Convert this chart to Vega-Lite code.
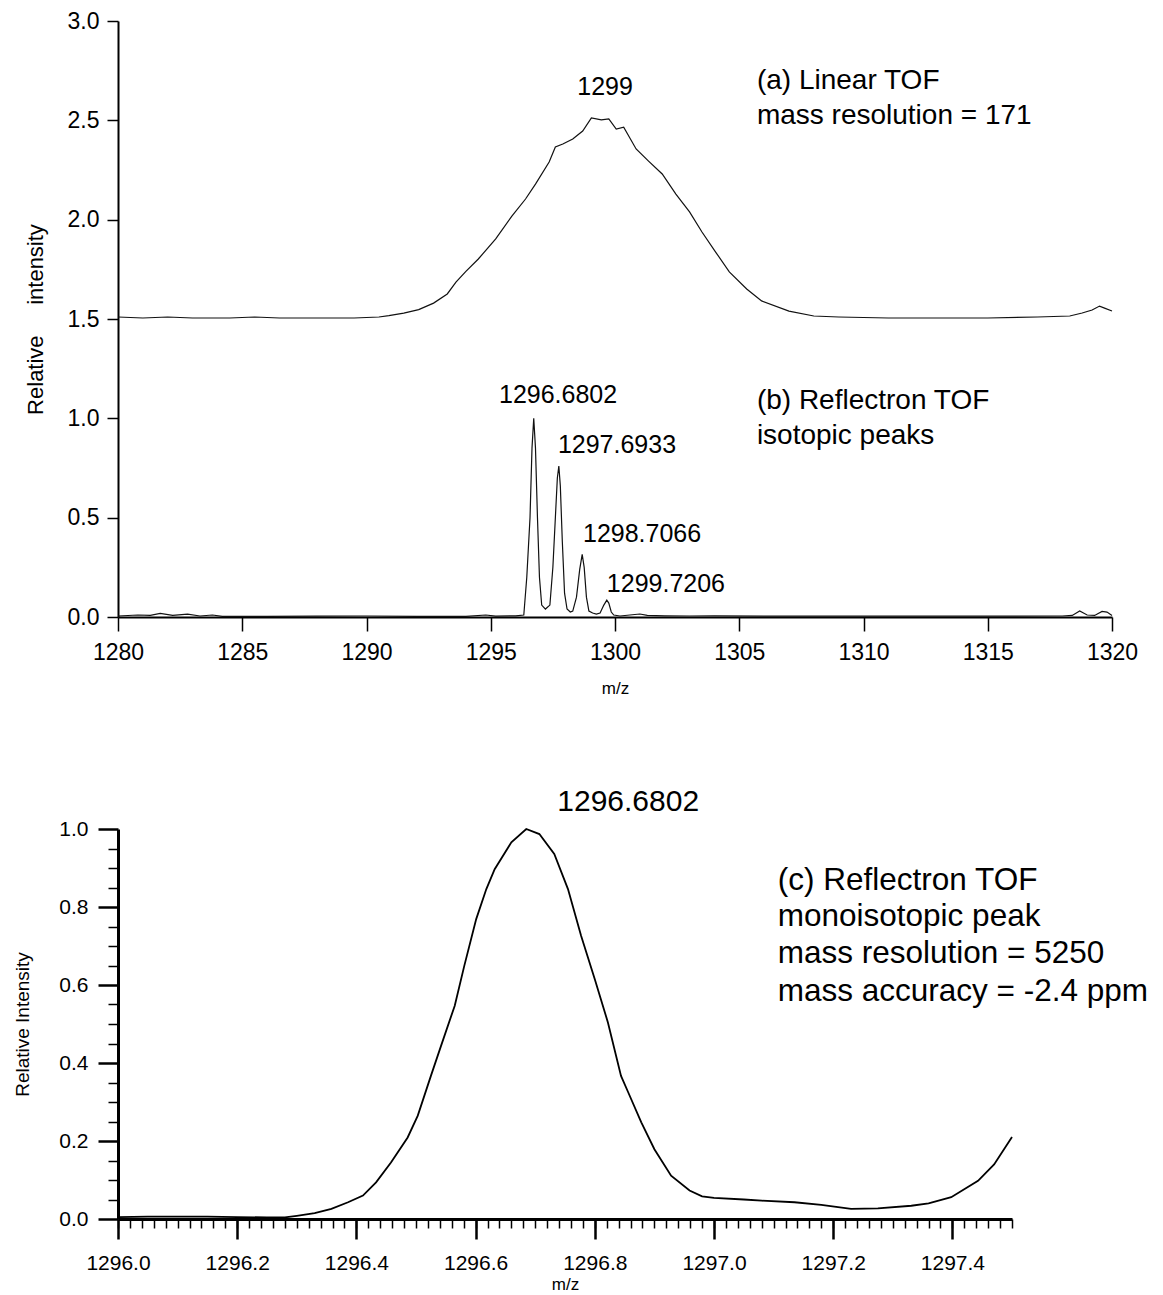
{
  "$schema": "https://vega.github.io/schema/vega-lite/v6.json",
  "background": "white",
  "padding": {"left": 13, "top": 10, "right": 0, "bottom": 0},
  "bounds": "flush",
  "spacing": 212,
  "datasets": {
    "lineA": [
      {"mz": 1280.0, "intensity": 1.51}, {"mz": 1281.0, "intensity": 1.505}, {"mz": 1282.0, "intensity": 1.51},
      {"mz": 1283.0, "intensity": 1.505}, {"mz": 1284.5, "intensity": 1.505}, {"mz": 1285.5, "intensity": 1.51},
      {"mz": 1286.5, "intensity": 1.505}, {"mz": 1288.0, "intensity": 1.505}, {"mz": 1289.5, "intensity": 1.505},
      {"mz": 1290.5, "intensity": 1.51}, {"mz": 1290.9, "intensity": 1.517}, {"mz": 1291.5, "intensity": 1.53},
      {"mz": 1292.1, "intensity": 1.547}, {"mz": 1292.7, "intensity": 1.58}, {"mz": 1293.25, "intensity": 1.626},
      {"mz": 1293.6, "intensity": 1.686}, {"mz": 1294.0, "intensity": 1.74}, {"mz": 1294.5, "intensity": 1.802},
      {"mz": 1295.2, "intensity": 1.903}, {"mz": 1295.85, "intensity": 2.018}, {"mz": 1296.4, "intensity": 2.104},
      {"mz": 1296.8, "intensity": 2.179}, {"mz": 1297.35, "intensity": 2.29}, {"mz": 1297.6, "intensity": 2.366},
      {"mz": 1297.9, "intensity": 2.381}, {"mz": 1298.3, "intensity": 2.406}, {"mz": 1298.7, "intensity": 2.446},
      {"mz": 1299.05, "intensity": 2.512}, {"mz": 1299.45, "intensity": 2.502}, {"mz": 1299.75, "intensity": 2.507},
      {"mz": 1300.05, "intensity": 2.456}, {"mz": 1300.35, "intensity": 2.466}, {"mz": 1300.85, "intensity": 2.356},
      {"mz": 1301.35, "intensity": 2.295}, {"mz": 1301.9, "intensity": 2.23}, {"mz": 1302.45, "intensity": 2.129},
      {"mz": 1303.0, "intensity": 2.039}, {"mz": 1303.5, "intensity": 1.938}, {"mz": 1304.05, "intensity": 1.837},
      {"mz": 1304.6, "intensity": 1.737}, {"mz": 1305.3, "intensity": 1.651}, {"mz": 1305.9, "intensity": 1.591},
      {"mz": 1307.0, "intensity": 1.54}, {"mz": 1308.0, "intensity": 1.515}, {"mz": 1309.0, "intensity": 1.51},
      {"mz": 1311.0, "intensity": 1.505}, {"mz": 1313.0, "intensity": 1.505}, {"mz": 1315.0, "intensity": 1.505},
      {"mz": 1317.0, "intensity": 1.51}, {"mz": 1318.3, "intensity": 1.515}, {"mz": 1318.8, "intensity": 1.53},
      {"mz": 1319.2, "intensity": 1.545}, {"mz": 1319.5, "intensity": 1.565}, {"mz": 1319.7, "intensity": 1.555},
      {"mz": 1320.0, "intensity": 1.54}
    ],
    "lineB": [
      {"mz": 1280.0, "intensity": 0.005}, {"mz": 1280.8, "intensity": 0.01}, {"mz": 1281.3, "intensity": 0.008},
      {"mz": 1281.7, "intensity": 0.018}, {"mz": 1282.2, "intensity": 0.008}, {"mz": 1282.8, "intensity": 0.014},
      {"mz": 1283.3, "intensity": 0.005}, {"mz": 1283.8, "intensity": 0.01}, {"mz": 1284.2, "intensity": 0.003},
      {"mz": 1286.0, "intensity": 0.003}, {"mz": 1288.0, "intensity": 0.004}, {"mz": 1290.0, "intensity": 0.005},
      {"mz": 1292.0, "intensity": 0.003}, {"mz": 1294.0, "intensity": 0.003}, {"mz": 1294.8, "intensity": 0.01},
      {"mz": 1295.2, "intensity": 0.004}, {"mz": 1296.0, "intensity": 0.006}, {"mz": 1296.33, "intensity": 0.01},
      {"mz": 1296.45, "intensity": 0.2}, {"mz": 1296.58, "intensity": 0.5}, {"mz": 1296.66, "intensity": 0.85},
      {"mz": 1296.73, "intensity": 1.0}, {"mz": 1296.8, "intensity": 0.85}, {"mz": 1296.88, "intensity": 0.5},
      {"mz": 1296.96, "intensity": 0.2}, {"mz": 1297.05, "intensity": 0.06}, {"mz": 1297.2, "intensity": 0.04},
      {"mz": 1297.38, "intensity": 0.06}, {"mz": 1297.5, "intensity": 0.25}, {"mz": 1297.6, "intensity": 0.5},
      {"mz": 1297.68, "intensity": 0.7}, {"mz": 1297.74, "intensity": 0.76}, {"mz": 1297.8, "intensity": 0.66},
      {"mz": 1297.88, "intensity": 0.38}, {"mz": 1297.97, "intensity": 0.12}, {"mz": 1298.07, "intensity": 0.04},
      {"mz": 1298.2, "intensity": 0.025}, {"mz": 1298.3, "intensity": 0.03}, {"mz": 1298.45, "intensity": 0.1},
      {"mz": 1298.58, "intensity": 0.24}, {"mz": 1298.68, "intensity": 0.315}, {"mz": 1298.76, "intensity": 0.25},
      {"mz": 1298.85, "intensity": 0.1}, {"mz": 1298.95, "intensity": 0.03}, {"mz": 1299.1, "intensity": 0.02},
      {"mz": 1299.25, "intensity": 0.015}, {"mz": 1299.4, "intensity": 0.02}, {"mz": 1299.55, "intensity": 0.06},
      {"mz": 1299.67, "intensity": 0.085}, {"mz": 1299.75, "intensity": 0.07}, {"mz": 1299.85, "intensity": 0.025},
      {"mz": 1299.95, "intensity": 0.01}, {"mz": 1300.2, "intensity": 0.005}, {"mz": 1300.6, "intensity": 0.01},
      {"mz": 1301.0, "intensity": 0.015}, {"mz": 1301.3, "intensity": 0.008}, {"mz": 1302.0, "intensity": 0.006},
      {"mz": 1303.0, "intensity": 0.005}, {"mz": 1304.0, "intensity": 0.006}, {"mz": 1306.0, "intensity": 0.004},
      {"mz": 1308.0, "intensity": 0.004}, {"mz": 1310.0, "intensity": 0.004}, {"mz": 1312.0, "intensity": 0.004},
      {"mz": 1314.0, "intensity": 0.004}, {"mz": 1316.0, "intensity": 0.004}, {"mz": 1318.0, "intensity": 0.005},
      {"mz": 1318.4, "intensity": 0.008}, {"mz": 1318.7, "intensity": 0.03}, {"mz": 1319.0, "intensity": 0.01},
      {"mz": 1319.3, "intensity": 0.008}, {"mz": 1319.6, "intensity": 0.028}, {"mz": 1319.8, "intensity": 0.025},
      {"mz": 1320.0, "intensity": 0.008}
    ],
    "peaksTop": [
      {"mz": 1299.6, "intensity": 2.668, "label": "1299"},
      {"mz": 1297.71, "intensity": 1.117, "label": "1296.6802"},
      {"mz": 1300.08, "intensity": 0.866, "label": "1297.6933"},
      {"mz": 1301.09, "intensity": 0.418, "label": "1298.7066"},
      {"mz": 1302.05, "intensity": 0.166, "label": "1299.7206"}
    ],
    "notesTop": [
      {"mz": 1305.71, "intensity": 2.698, "label": "(a) Linear TOF"},
      {"mz": 1305.71, "intensity": 2.522, "label": "mass resolution = 171"},
      {"mz": 1305.71, "intensity": 1.087, "label": "(b) Reflectron TOF"},
      {"mz": 1305.71, "intensity": 0.911, "label": "isotopic peaks"}
    ],
    "lineC": [
      {"mz": 1296.0, "intensity": 0.005}, {"mz": 1296.05, "intensity": 0.006}, {"mz": 1296.1, "intensity": 0.006},
      {"mz": 1296.15, "intensity": 0.006}, {"mz": 1296.2, "intensity": 0.005}, {"mz": 1296.25, "intensity": 0.004},
      {"mz": 1296.28, "intensity": 0.004}, {"mz": 1296.3, "intensity": 0.008}, {"mz": 1296.33, "intensity": 0.015},
      {"mz": 1296.358, "intensity": 0.026}, {"mz": 1296.386, "intensity": 0.043}, {"mz": 1296.411, "intensity": 0.06},
      {"mz": 1296.433, "intensity": 0.094}, {"mz": 1296.458, "intensity": 0.145}, {"mz": 1296.486, "intensity": 0.209},
      {"mz": 1296.503, "intensity": 0.265}, {"mz": 1296.525, "intensity": 0.367}, {"mz": 1296.542, "intensity": 0.444},
      {"mz": 1296.565, "intensity": 0.547}, {"mz": 1296.581, "intensity": 0.649}, {"mz": 1296.601, "intensity": 0.769},
      {"mz": 1296.618, "intensity": 0.846}, {"mz": 1296.632, "intensity": 0.897}, {"mz": 1296.66, "intensity": 0.966},
      {"mz": 1296.685, "intensity": 1.0}, {"mz": 1296.707, "intensity": 0.987}, {"mz": 1296.732, "intensity": 0.936},
      {"mz": 1296.755, "intensity": 0.846}, {"mz": 1296.777, "intensity": 0.726}, {"mz": 1296.8, "intensity": 0.615},
      {"mz": 1296.822, "intensity": 0.504}, {"mz": 1296.844, "intensity": 0.367}, {"mz": 1296.856, "intensity": 0.325},
      {"mz": 1296.878, "intensity": 0.248}, {"mz": 1296.9, "intensity": 0.179}, {"mz": 1296.928, "intensity": 0.111},
      {"mz": 1296.959, "intensity": 0.073}, {"mz": 1296.98, "intensity": 0.058}, {"mz": 1297.0, "intensity": 0.054},
      {"mz": 1297.05, "intensity": 0.05}, {"mz": 1297.08, "intensity": 0.047}, {"mz": 1297.135, "intensity": 0.043},
      {"mz": 1297.18, "intensity": 0.036}, {"mz": 1297.23, "intensity": 0.026}, {"mz": 1297.275, "intensity": 0.027},
      {"mz": 1297.331, "intensity": 0.034}, {"mz": 1297.36, "intensity": 0.04}, {"mz": 1297.398, "intensity": 0.056},
      {"mz": 1297.443, "intensity": 0.098}, {"mz": 1297.47, "intensity": 0.14}, {"mz": 1297.5, "intensity": 0.21}
    ],
    "peakBottom": [
      {"mz": 1296.856, "intensity": 1.069, "label": "1296.6802"}
    ],
    "notesBottom": [
      {"mz": 1297.107, "intensity": 0.867, "label": "(c) Reflectron TOF"},
      {"mz": 1297.107, "intensity": 0.774, "label": "monoisotopic peak"},
      {"mz": 1297.107, "intensity": 0.679, "label": "mass resolution = 5250"},
      {"mz": 1297.107, "intensity": 0.582, "label": "mass accuracy = -2.4 ppm"}
    ]
  },
  "vconcat": [
    {
      "width": 994,
      "height": 596,
      "encoding": {
        "x": {
          "field": "mz", "type": "quantitative",
          "scale": {"domain": [1280, 1320], "nice": false, "zero": false},
          "axis": {
            "title": "m/z", "values": [1280, 1285, 1290, 1295, 1300, 1305, 1310, 1315, 1320],
            "format": "d", "tickSize": 14, "tickWidth": 1.5, "labelFontSize": 23, "labelPadding": 10,
            "labelFlush": false, "labelOverlap": false, "labelBound": false,
            "titleFontSize": 17, "titlePadding": 16, "domainWidth": 2
          }
        },
        "y": {
          "field": "intensity", "type": "quantitative",
          "scale": {"domain": [0, 3], "nice": false, "zero": false},
          "axis": {
            "title": "Relative\u00a0\u00a0\u00a0\u00a0\u00a0intensity", "values": [0, 0.5, 1, 1.5, 2, 2.5, 3],
            "format": ".1f", "tickSize": 11, "tickWidth": 1.5, "labelFontSize": 23, "labelPadding": 8,
            "labelFlush": false, "labelOverlap": false, "labelBound": false,
            "titleFontSize": 22, "titlePadding": 20, "domainWidth": 2
          }
        }
      },
      "layer": [
        {"data": {"name": "lineA"}, "mark": {"type": "line", "color": "#111111", "strokeWidth": 1.2}},
        {"data": {"name": "lineB"}, "mark": {"type": "line", "color": "#111111", "strokeWidth": 1.2}},
        {
          "data": {"name": "peaksTop"},
          "mark": {"type": "text", "align": "center", "baseline": "middle", "fontSize": 25, "color": "black"},
          "encoding": {"text": {"field": "label"}}
        },
        {
          "data": {"name": "notesTop"},
          "mark": {"type": "text", "align": "left", "baseline": "middle", "fontSize": 28, "color": "black"},
          "encoding": {"text": {"field": "label"}}
        }
      ]
    },
    {
      "width": 894,
      "height": 390,
      "layer": [
        {
          "data": {"name": "lineC"},
          "mark": {"type": "line", "color": "black", "strokeWidth": 1.8},
          "encoding": {
            "x": {
              "field": "mz", "type": "quantitative",
              "scale": {"domain": [1296, 1297.5], "nice": false, "zero": false},
              "axis": {
                "title": "m/z", "orient": "bottom",
                "values": [1296, 1296.2, 1296.4, 1296.6, 1296.8, 1297, 1297.2, 1297.4],
                "format": ".1f", "tickSize": 20, "tickWidth": 2.5, "labelFontSize": 21, "labelPadding": 13,
                "labelFlush": false, "labelOverlap": false, "labelBound": false,
                "titleFontSize": 17, "titlePadding": 3, "domainWidth": 3
              }
            },
            "y": {
              "field": "intensity", "type": "quantitative",
              "scale": {"domain": [0, 1], "nice": false, "zero": false},
              "axis": {
                "title": "Relative Intensity", "orient": "left",
                "values": [0, 0.2, 0.4, 0.6, 0.8, 1.0],
                "format": ".1f", "tickSize": 20, "tickWidth": 2.5, "labelFontSize": 21, "labelPadding": 10,
                "labelFlush": false, "labelOverlap": false, "labelBound": false,
                "titleFontSize": 19, "titlePadding": 26, "domainWidth": 3
              }
            }
          }
        },
        {
          "data": {"name": "notesBottom"},
          "mark": {"type": "text", "align": "left", "baseline": "middle", "fontSize": 31.5, "color": "black"},
          "encoding": {
            "x": {
              "field": "mz", "type": "quantitative",
              "scale": {"domain": [1296, 1297.5], "nice": false, "zero": false},
              "axis": {
                "orient": "bottom", "title": null, "labels": false, "domain": false, "grid": false,
                "tickSize": 9, "tickWidth": 1.5,
                "values": [1296,1296.02,1296.04,1296.06,1296.08,1296.1,1296.12,1296.14,1296.16,1296.18,
                  1296.2,1296.22,1296.24,1296.26,1296.28,1296.3,1296.32,1296.34,1296.36,1296.38,
                  1296.4,1296.42,1296.44,1296.46,1296.48,1296.5,1296.52,1296.54,1296.56,1296.58,
                  1296.6,1296.62,1296.64,1296.66,1296.68,1296.7,1296.72,1296.74,1296.76,1296.78,
                  1296.8,1296.82,1296.84,1296.86,1296.88,1296.9,1296.92,1296.94,1296.96,1296.98,
                  1297,1297.02,1297.04,1297.06,1297.08,1297.1,1297.12,1297.14,1297.16,1297.18,
                  1297.2,1297.22,1297.24,1297.26,1297.28,1297.3,1297.32,1297.34,1297.36,1297.38,
                  1297.4,1297.42,1297.44,1297.46,1297.48,1297.5]
              }
            },
            "y": {
              "field": "intensity", "type": "quantitative",
              "scale": {"domain": [0, 1], "nice": false, "zero": false},
              "axis": {
                "orient": "left", "title": null, "labels": false, "domain": false, "grid": false,
                "tickSize": 10, "tickWidth": 1.5,
                "values": [0.05, 0.1, 0.15, 0.25, 0.3, 0.35, 0.45, 0.5, 0.55, 0.65, 0.7, 0.75, 0.85, 0.9, 0.95]
              }
            },
            "text": {"field": "label"}
          }
        },
        {
          "data": {"name": "peakBottom"},
          "mark": {"type": "text", "align": "center", "baseline": "middle", "fontSize": 30, "color": "black"},
          "encoding": {
            "x": {"field": "mz", "type": "quantitative", "scale": {"domain": [1296, 1297.5], "nice": false, "zero": false}, "axis": null},
            "y": {"field": "intensity", "type": "quantitative", "scale": {"domain": [0, 1], "nice": false, "zero": false}, "axis": null},
            "text": {"field": "label"}
          }
        }
      ],
      "resolve": {"axis": {"x": "independent", "y": "independent"}}
    }
  ],
  "config": {
    "view": {"stroke": null},
    "font": "Liberation Sans",
    "axis": {
      "grid": false, "domainColor": "black", "tickColor": "black", "labelColor": "black",
      "titleColor": "black", "labelFont": "Liberation Sans", "titleFont": "Liberation Sans",
      "titleFontWeight": "normal"
    },
    "text": {"font": "Liberation Sans"}
  }
}
